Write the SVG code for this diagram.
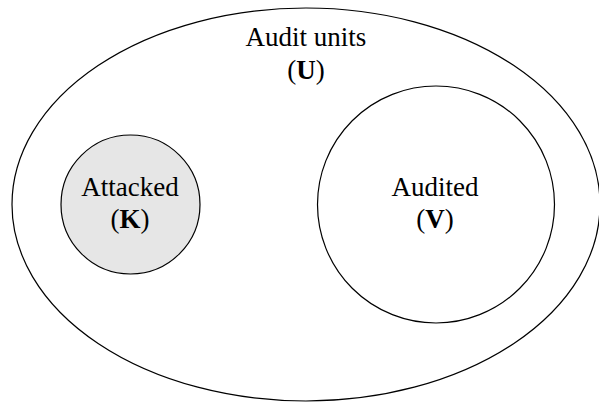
<svg xmlns="http://www.w3.org/2000/svg" width="599" height="403" viewBox="0 0 599 403">
<style>
.shape{stroke:#000;stroke-width:1.2}
text{font-family:'Liberation Serif','Times New Roman','DejaVu Serif',serif;font-size:27px;fill:#000;text-anchor:middle}
.b{font-weight:bold}
</style>
<rect width="599" height="403" fill="#fff"/>
<g id="U">
<ellipse class="shape" cx="306" cy="204.5" rx="294" ry="196.5" fill="#fff"/>
<text x="306" y="46" font-family="Liberation Serif, serif">Audit units</text>
<text x="306" y="79" font-family="Liberation Serif, serif">(<tspan class="b">U</tspan>)</text>
</g>
<g id="K">
<circle class="shape" cx="130.5" cy="204.5" r="69.5" fill="#e6e6e6"/>
<text x="130" y="196" font-family="Liberation Serif, serif">Attacked</text>
<text x="130" y="228" font-family="Liberation Serif, serif">(<tspan class="b">K</tspan>)</text>
</g>
<g id="V">
<circle class="shape" cx="436" cy="204.5" r="118.5" fill="#fff"/>
<text x="435" y="196" font-family="Liberation Serif, serif">Audited</text>
<text x="435" y="228" font-family="Liberation Serif, serif">(<tspan class="b">V</tspan>)</text>
</g>
<g id="connectors"/>
</svg>
